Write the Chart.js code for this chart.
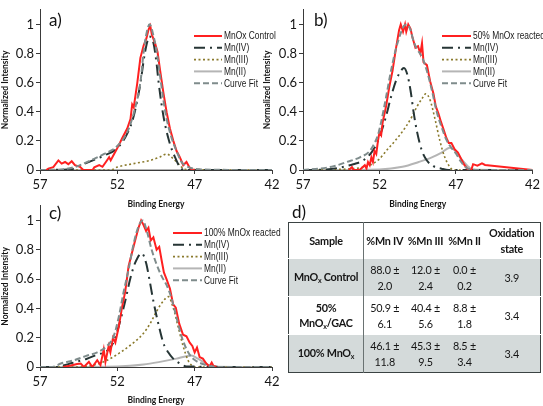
<!DOCTYPE html>
<html>
<head>
<meta charset="utf-8">
<script src="https://cdn.jsdelivr.net/npm/chart.js@4.4.1/dist/chart.umd.min.js"></script>
<style>
  body { margin: 0; background: #fff; }
  #page { position: relative; width: 543px; height: 406px; overflow: hidden; background: #fff; }
  canvas { position: absolute; }
  .tag { position: absolute; font-family: Lato, sans-serif; font-size: 17px; line-height: 1; color: #111; }
  #tbl { position: absolute; left: 288px; top: 222px; }
  table { border-collapse: collapse; width: 252px; height: 146px; table-layout: fixed;
          font-family: Lato, sans-serif; font-size: 10.8px; letter-spacing: -0.25px; color: #151515;
          border: 1.5px solid #3b4343; }
  td { text-align: center; padding: 0; line-height: 1.45; white-space: nowrap; }
  td.lab { border-right: 1px solid #6a7272; font-weight: bold; }
  tr.head td { font-weight: bold; height: 35px; }
  tr.row td { height: 37px; border-top: 1px solid #fff; }
  tr.shade { background: #d4dada; }
  sub { font-size: 7px; vertical-align: -2px; }
</style>
</head>
<body>
<div id="page">
  <canvas id="chartA" width="290" height="210" style="left:0;top:0"></canvas>
  <canvas id="chartB" width="281" height="210" style="left:262px;top:0"></canvas>
  <canvas id="chartC" width="290" height="210" style="left:0;top:196px"></canvas>
  <div class="tag" style="left:49px;top:11px">a)</div>
  <div class="tag" style="left:314px;top:11px">b)</div>
  <div class="tag" style="left:49px;top:204px">c)</div>
  <div class="tag" style="left:292px;top:203px">d)</div>
  <div id="tbl">
    <table>
      <colgroup><col style="width:75px"><col style="width:42px"><col style="width:40px"><col style="width:38px"><col style="width:57px"></colgroup>
      <tr class="head"><td class="lab">Sample</td><td>%Mn IV</td><td>%Mn III</td><td>%Mn II</td><td>Oxidation<br>state</td></tr>
      <tr class="row shade"><td class="lab">MnO<sub>x</sub> Control</td><td>88.0 ±<br>2.0</td><td>12.0 ±<br>2.4</td><td>0.0 ±<br>0.2</td><td>3.9</td></tr>
      <tr class="row"><td class="lab">50%<br>MnO<sub>x</sub>/GAC</td><td>50.9 ±<br>6.1</td><td>40.4 ±<br>5.6</td><td>8.8 ±<br>1.8</td><td>3.4</td></tr>
      <tr class="row shade"><td class="lab">100% MnO<sub>x</sub></td><td>46.1 ±<br>11.8</td><td>45.3 ±<br>9.5</td><td>8.5 ±<br>3.4</td><td>3.4</td></tr>
    </table>
  </div>
</div>
<script>
// ---- datos (energía de enlace en eV, intensidad normalizada) ----

// a) MnOx control
const aRawE = [56.6, 56.46, 56.14, 55.81, 55.6, 55.38, 55.17, 54.95, 54.74, 54.41, 54.2, 53.6, 53.49, 53.17, 52.96, 52.74, 52.53, 52.43, 52.21, 52.0, 51.68, 51.36, 51.15, 51.04, 50.94, 50.72, 50.51, 50.3, 50.13, 49.98, 49.87, 49.77, 49.55, 49.4, 49.23, 49.02, 48.81, 48.6, 48.38, 48.17, 47.96, 47.74, 47.53, 47.36, 47.21, 47.0];
const aRawI = [0, 0.01, 0.02, 0.066, 0.044, 0.055, 0.04, 0.06, 0.033, 0.022, 0, 0, 0.018, 0.033, 0.022, 0.055, 0.088, 0.066, 0.11, 0.15, 0.22, 0.285, 0.35, 0.45, 0.43, 0.59, 0.77, 0.855, 0.9, 0.965, 0.99, 0.93, 0.866, 0.81, 0.68, 0.53, 0.395, 0.285, 0.2, 0.13, 0.088, 0.033, 0.055, 0.022, 0.004, 0];
const aMn4E = [57, 55.0, 54.3, 53.5, 52.85, 52.0, 51.36, 50.94, 50.5, 50.3, 50.09, 49.93, 49.66, 49.45, 49.34, 49.02, 48.6, 48.28, 47.96, 47.7, 42];
const aMn4I = [0, 0.005, 0.035, 0.07, 0.1, 0.15, 0.25, 0.37, 0.6, 0.75, 0.87, 0.917, 0.87, 0.72, 0.61, 0.37, 0.18, 0.09, 0.02, 0, 0];
const aMn3E = [57, 52.43, 52.0, 50.94, 49.87, 49.23, 48.81, 48.38, 47.96, 47.64, 42];
const aMn3I = [0, 0, 0.02, 0.044, 0.066, 0.09, 0.11, 0.077, 0.033, 0.004, 0];
const aMn2E = [57, 42];
const aMn2I = [0, 0];
const aFitE = [57, 55.5, 54.77, 53.5, 52.85, 52.0, 51.36, 50.94, 50.5, 50.3, 50.09, 49.91, 49.66, 49.45, 49.23, 49.02, 48.81, 48.49, 48.17, 47.85, 47.53, 47.1, 46.5, 42];
const aFitI = [0, 0.005, 0.02, 0.077, 0.11, 0.165, 0.26, 0.39, 0.61, 0.81, 0.95, 1.0, 0.92, 0.81, 0.64, 0.48, 0.35, 0.22, 0.13, 0.055, 0.026, 0.01, 0.003, 0];

// b) 50% MnOx reacted
const bRawE = [54.0, 53.8, 53.7, 53.3, 52.96, 52.85, 52.75, 52.64, 52.53, 52.43, 52.32, 52.21, 52.1, 52.0, 51.89, 51.79, 51.57, 51.36, 51.15, 50.93, 50.72, 50.61, 50.46, 50.33, 50.25, 50.12, 49.97, 49.86, 49.65, 49.48, 49.33, 49.22, 49.12, 48.9, 48.69, 48.47, 48.32, 48.15, 47.98, 47.83, 47.62, 47.47, 47.3, 47.09, 46.87, 46.66, 46.44, 46.23, 46.0, 45.88, 45.6, 45.3, 45.1, 42.0];
const bRawI = [0, 0.02, 0, 0, 0.033, 0.01, 0.055, 0.033, 0.087, 0.055, 0.13, 0.11, 0.2, 0.26, 0.24, 0.33, 0.437, 0.57, 0.68, 0.83, 0.96, 1.0, 0.95, 1.0, 0.95, 1.0, 0.97, 0.917, 0.84, 0.85, 0.8, 0.87, 0.74, 0.72, 0.61, 0.524, 0.437, 0.39, 0.33, 0.284, 0.218, 0.186, 0.186, 0.142, 0.12, 0.076, 0.033, 0.004, 0, 0.04, 0.03, 0.045, 0.035, 0];
const bMn4E = [57, 55.5, 54.56, 53.71, 53.07, 52.53, 52.21, 51.89, 51.57, 51.25, 50.93, 50.61, 50.4, 50.18, 49.97, 49.76, 49.54, 49.22, 48.9, 48.47, 47.94, 47.5, 42];
const bMn4I = [0, 0.004, 0.017, 0.04, 0.065, 0.12, 0.175, 0.26, 0.37, 0.5, 0.61, 0.68, 0.70, 0.655, 0.546, 0.39, 0.26, 0.13, 0.065, 0.026, 0.009, 0, 0];
const bMn3E = [57, 53.71, 52.64, 52.0, 51.57, 50.93, 50.29, 49.86, 49.54, 49.22, 48.97, 48.69, 48.37, 48.05, 47.73, 47.41, 47.19, 42];
const bMn3I = [0, 0.01, 0.033, 0.076, 0.13, 0.207, 0.295, 0.37, 0.437, 0.49, 0.524, 0.48, 0.35, 0.2, 0.087, 0.022, 0, 0];
const bMn2E = [57, 52.0, 50.5, 49.44, 48.58, 47.94, 47.41, 47.09, 46.66, 46.23, 45.91, 42];
const bMn2I = [0, 0.004, 0.022, 0.055, 0.087, 0.12, 0.153, 0.135, 0.076, 0.026, 0.004, 0];
const bFitE = [57, 55.85, 54.99, 54.14, 53.28, 52.64, 52.32, 52.1, 51.89, 51.57, 51.25, 50.93, 50.61, 50.4, 50.18, 49.97, 49.76, 49.54, 49.22, 48.9, 48.58, 48.26, 47.94, 47.62, 47.3, 46.98, 46.66, 46.34, 46.02, 45.5, 42];
const bFitI = [0, 0.01, 0.026, 0.055, 0.087, 0.13, 0.186, 0.24, 0.33, 0.5, 0.68, 0.83, 0.94, 0.99, 1.0, 0.96, 0.88, 0.83, 0.775, 0.68, 0.55, 0.40, 0.295, 0.207, 0.153, 0.11, 0.055, 0.017, 0.004, 0, 0];

// c) 100% MnOx reacted
const cRawE = [55.5, 55.0, 54.6, 54.37, 54.16, 53.84, 53.62, 53.3, 53.09, 52.88, 52.77, 52.56, 52.45, 52.28, 52.13, 51.91, 51.7, 51.49, 51.27, 51.06, 50.85, 50.63, 50.46, 50.31, 50.14, 49.99, 49.84, 49.67, 49.46, 49.29, 49.14, 48.99, 48.82, 48.6, 48.39, 48.22, 48.0, 47.75, 47.53, 47.32, 47.15, 47.0, 46.85, 46.68, 46.47, 46.25, 46.04, 45.9, 45.8, 45.6];
const cRawI = [0, 0.01, 0.02, 0.024, 0, 0.035, 0, 0.046, 0.013, 0.12, 0.035, 0.144, 0.1, 0.2, 0.166, 0.275, 0.405, 0.514, 0.69, 0.776, 0.863, 0.95, 1.0, 0.97, 0.928, 0.95, 0.863, 0.885, 0.8, 0.82, 0.73, 0.645, 0.6, 0.536, 0.427, 0.405, 0.296, 0.22, 0.21, 0.166, 0.144, 0.1, 0.133, 0.068, 0.057, 0.024, 0.004, 0.03, 0.01, 0];
const cMn4E = [57, 56.0, 55.5, 55.0, 54.5, 54.0, 53.3, 52.66, 52.24, 51.8, 51.49, 51.17, 50.85, 50.42, 50.14, 49.93, 49.67, 49.35, 49.03, 48.71, 48.39, 47.96, 47.53, 42];
const cMn4I = [0, 0, 0.01, 0.025, 0.04, 0.055, 0.085, 0.11, 0.17, 0.32, 0.45, 0.6, 0.71, 0.776, 0.71, 0.6, 0.45, 0.296, 0.166, 0.1, 0.057, 0.024, 0.004, 0];
const cMn3E = [57, 54.5, 53.52, 52.66, 51.8, 50.95, 50.31, 49.88, 49.46, 49.03, 48.71, 48.39, 48.07, 47.75, 47.43, 47.21, 47.0, 42];
const cMn3I = [0, 0, 0.013, 0.046, 0.1, 0.166, 0.23, 0.296, 0.38, 0.45, 0.48, 0.405, 0.275, 0.144, 0.046, 0.013, 0, 0];
const cMn2E = [57, 52.0, 50.31, 49.24, 48.18, 47.53, 47.21, 46.79, 46.36, 45.93, 42];
const cMn2I = [0, 0.004, 0.017, 0.035, 0.057, 0.074, 0.078, 0.057, 0.03, 0.004, 0];
const cFitE = [57, 56.2, 55.65, 54.8, 53.94, 53.3, 52.66, 52.24, 51.91, 51.59, 51.27, 50.95, 50.63, 50.35, 50.1, 49.78, 49.46, 49.14, 48.82, 48.5, 48.18, 47.85, 47.53, 47.21, 46.89, 46.57, 46.25, 45.8, 45.3, 42];
const cFitI = [0, 0, 0.024, 0.046, 0.078, 0.1, 0.144, 0.21, 0.34, 0.514, 0.667, 0.84, 0.96, 1.0, 0.93, 0.8, 0.7, 0.62, 0.56, 0.47, 0.34, 0.21, 0.122, 0.068, 0.04, 0.024, 0.013, 0.004, 0, 0];

const xTicks = [57, 52, 47, 42];
const yTicks = [0, 0.2, 0.4, 0.6, 0.8, 1];
const seriesNames = ['Mn(IV)', 'Mn(III)', 'Mn(II)', 'Curve Fit'];

// ---- estilos ----
const axisColor = '#3a3a3a';
const estilos = {
  raw: { color: '#ff2020', width: 2,   dash: [],            order: 1, smooth: false },
  mn4: { color: '#263535', width: 2,   dash: [11, 5, 2, 5], order: 2, smooth: true },
  mn3: { color: '#8a7a2c', width: 1.6, dash: [2, 2.5],      order: 3, smooth: true },
  mn2: { color: '#b5b5b5', width: 2,   dash: [],            order: 4, smooth: true },
  fit: { color: '#7f8c8c', width: 2,   dash: [6, 3],        order: 0, smooth: true }
};

function puntos(e, v) {
  return e.map((x, i) => ({ x: x, y: v[i] }));
}

function serie(label, key, e, v) {
  const s = estilos[key];
  return {
    label: label,
    data: puntos(e, v),
    borderColor: s.color,
    borderWidth: s.width,
    borderDash: s.dash,
    order: s.order,
    pointRadius: 0,
    fill: false,
    cubicInterpolationMode: s.smooth ? 'monotone' : 'default',
    tension: 0
  };
}

// leyenda dibujada dentro del área, a la derecha del pico (texto estrecho)
function leyenda(x, y, len) {
  return {
    id: 'leyendaLateral',
    afterDatasetsDraw(chart) {
      const ctx = chart.ctx;
      chart.data.datasets.forEach((ds, i) => {
        const yy = y + i * 11.8;
        ctx.save();
        ctx.strokeStyle = ds.borderColor;
        ctx.lineWidth = ds.borderWidth;
        ctx.setLineDash(ds.borderDash || []);
        ctx.beginPath();
        ctx.moveTo(x, yy);
        ctx.lineTo(x + len, yy);
        ctx.stroke();
        ctx.setLineDash([]);
        ctx.fillStyle = '#1a1a1a';
        ctx.font = '10.5px "Liberation Sans", Arial, sans-serif';
        ctx.textBaseline = 'middle';
        ctx.textAlign = 'left';
        ctx.translate(x + len + 2, yy + 0.5);
        ctx.scale(0.8, 1);
        ctx.fillText(ds.label, 0, 0);
        ctx.restore();
      });
    }
  };
}

function grafico(id, datasets, caja) {
  return new Chart(document.getElementById(id), {
    type: 'line',
    data: { datasets: datasets },
    options: {
      responsive: false,
      animation: false,
      events: [],
      layout: { padding: { top: caja.top, right: caja.right, left: 0, bottom: 0 } },
      plugins: { legend: { display: false }, tooltip: { enabled: false } },
      scales: {
        x: {
          type: 'linear', reverse: true, min: 42, max: 57,
          afterBuildTicks: s => { s.ticks = xTicks.map(v => ({ value: v })); },
          ticks: { color: '#151515', font: { family: 'Lato', size: 13 }, padding: 3, maxRotation: 0 },
          grid: { drawOnChartArea: false, drawTicks: true, tickLength: 4, color: axisColor },
          border: { color: axisColor, width: 1 },
          title: { display: true, text: 'Binding Energy', color: '#151515',
                   font: { family: 'Lato', size: 8.5, weight: 'bold' }, padding: { top: 0, bottom: 1 } },
          afterFit: s => { s.height = caja.xh; }
        },
        y: {
          type: 'linear', min: 0, max: 1.1,
          afterBuildTicks: s => { s.ticks = yTicks.map(v => ({ value: v })); },
          ticks: { color: '#151515', font: { family: 'Lato', size: 13 }, padding: 2,
                   callback: v => String(Math.round(v * 10) / 10) },
          grid: { drawOnChartArea: false, drawTicks: true, tickLength: 4, color: axisColor },
          border: { color: axisColor, width: 1 },
          title: { display: true, text: 'Normalized Intensity', color: '#151515',
                   font: { family: 'Lato', size: 8.5, weight: 'bold' }, padding: 0 },
          afterFit: s => { s.width = caja.yw; }
        }
      }
    },
    plugins: [leyenda(caja.lx, caja.ly, caja.len)]
  });
}

function dibujar() {
  grafico('chartA', [
    serie('MnOx Control', 'raw', aRawE, aRawI),
    serie(seriesNames[0], 'mn4', aMn4E, aMn4I),
    serie(seriesNames[1], 'mn3', aMn3E, aMn3I),
    serie(seriesNames[2], 'mn2', aMn2E, aMn2I),
    serie(seriesNames[3], 'fit', aFitE, aFitI)
  ], { top: 3, right: 18, xh: 40, yw: 40, lx: 194, ly: 36, len: 28 });

  grafico('chartB', [
    serie('50% MnOx reacted', 'raw', bRawE, bRawI),
    serie(seriesNames[0], 'mn4', bMn4E, bMn4I),
    serie(seriesNames[1], 'mn3', bMn3E, bMn3I),
    serie(seriesNames[2], 'mn2', bMn2E, bMn2I),
    serie(seriesNames[3], 'fit', bFitE, bFitI)
  ], { top: 2, right: 8, xh: 40, yw: 41, lx: 180, ly: 36, len: 29 });

  grafico('chartC', [
    serie('100% MnOx reacted', 'raw', cRawE, cRawI),
    serie(seriesNames[0], 'mn4', cMn4E, cMn4I),
    serie(seriesNames[1], 'mn3', cMn3E, cMn3I),
    serie(seriesNames[2], 'mn2', cMn2E, cMn2I),
    serie(seriesNames[3], 'fit', cFitE, cFitI)
  ], { top: 3, right: 18, xh: 39, yw: 40, lx: 173, ly: 37, len: 29 });
}

const fuentes = ['13px Lato', 'bold 9px Lato', '11px "Liberation Sans"'];
Promise.all(fuentes.map(f => document.fonts.load(f).catch(() => null))).then(dibujar, dibujar);
</script>
</body>
</html>
